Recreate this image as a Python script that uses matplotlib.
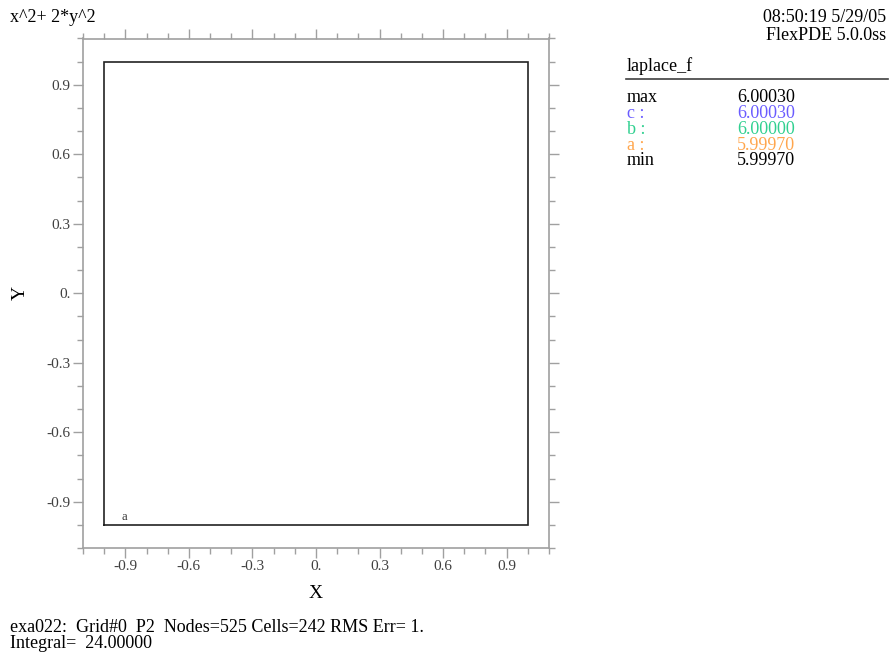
import matplotlib
matplotlib.use("Agg")
import matplotlib.pyplot as plt
import numpy as np

plt.rcParams['font.family'] = ['Liberation Serif', 'DejaVu Serif']

# ---- data ----
title_text = "x^2+ 2*y^2"
stamp_lines = ["08:50:19 5/29/05", "FlexPDE 5.0.0ss"]
var_name = "laplace_f"
legend_names = ["max", "c :", "b :", "a :", "min"]
legend_values = ["6.00030", "6.00030", "6.00000", "5.99970", "5.99970"]
legend_colors = ["black", "#6a5cff", "#30d090", "#ffa64d", "black"]
boundary_x = [-1.0, 1.0, 1.0, -1.0, -1.0]
boundary_y = [-1.0, -1.0, 1.0, 1.0, -1.0]
contour_labels = ["a"]
contour_label_x = [-0.905]
contour_label_y = [-0.968]
major_ticks = [-0.9, -0.6, -0.3, 0.0, 0.3, 0.6, 0.9]
major_labels = ["-0.9", "-0.6", "-0.3", "0.", "0.3", "0.6", "0.9"]
minor_ticks = [-1.1, -1.0, -0.8, -0.7, -0.5, -0.4, -0.2, -0.1, 0.1, 0.2, 0.4, 0.5, 0.7, 0.8, 1.0, 1.1]
footer_lines = ["exa022:  Grid#0  P2  Nodes=525 Cells=242 RMS Err= 1.",
                "Integral=  24.00000"]
axis_limits = [-1.1, 1.1]

W, H = 890, 656
fig = plt.figure(figsize=(W / 100, H / 100), dpi=100)

def fx(px):
    return px / W

def fy(py):
    return 1 - py / H

ax = fig.add_axes([fx(83), fy(548), fx(549) - fx(83), fy(38.5) - fy(548)])
ax.set_xlim(axis_limits)
ax.set_ylim(axis_limits)

ax.plot(boundary_x, boundary_y, color='#222222', lw=1.2, solid_joinstyle='miter')
for lab, x, y in zip(contour_labels, contour_label_x, contour_label_y):
    ax.text(x, y, lab, fontsize=9, color='#333333', ha='center', va='center')

spine_col = '#a0a0a0'
for s in ax.spines.values():
    s.set_color(spine_col)
    s.set_linewidth(1.2)

for axis in (ax.xaxis, ax.yaxis):
    axis.set_ticks(major_ticks)
    axis.set_ticklabels(major_labels)
    axis.set_ticks(minor_ticks, minor=True)

ax.tick_params(which='both', direction='out', color=spine_col, width=1.0,
               top=True, right=True, labeltop=False, labelright=False,
               labelsize=11, labelcolor='#404040')
ax.tick_params(which='major', length=7, pad=2)
ax.tick_params(which='minor', length=4)

ax.set_xlabel("X", fontsize=14)
ax.set_ylabel("Y", fontsize=14)
ax.xaxis.set_label_coords(0.5, (548 - 593) / 509.5)
ax.yaxis.set_label_coords((20 - 83) / 466, 0.5)
ax.xaxis.label.set_va('center')
ax.yaxis.label.set_va('center')

fs = 13
fig.text(fx(10), fy(17), title_text, fontsize=fs, ha='left', va='center')
fig.text(fx(886), fy(18), stamp_lines[0], fontsize=fs, ha='right', va='center')
fig.text(fx(886), fy(35), stamp_lines[1], fontsize=fs, ha='right', va='center')

fig.text(fx(627), fy(66), var_name, fontsize=fs, ha='left', va='center')
fig.add_artist(plt.Line2D([fx(626), fx(888)], [fy(79), fy(79)],
                          transform=fig.transFigure, color='#404040', lw=1.2))
for i, (n, v, c) in enumerate(zip(legend_names, legend_values, legend_colors)):
    yy = fy(97 + 16 * i)
    fig.text(fx(627), yy, n, fontsize=fs, ha='left', va='center', color=c)
    fig.text(fx(737), yy, v, fontsize=fs, ha='left', va='center', color=c)

fig.text(fx(10), fy(627), footer_lines[0], fontsize=fs, ha='left', va='center')
fig.text(fx(10), fy(643), footer_lines[1], fontsize=fs, ha='left', va='center')

fig.savefig("out.png", dpi=100)
